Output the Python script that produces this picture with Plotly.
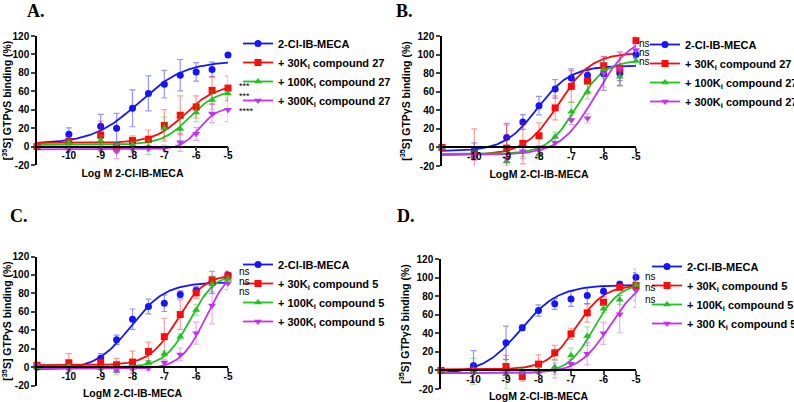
import plotly.graph_objects as go
import numpy as np

# log molar dose of 2-Cl-IB-MECA (first point = basal, drawn on the y axis)
LOG_DOSE = [-11, -10, -9, -8.5, -8, -7.5, -7, -6.5, -6, -5.5, -5]
X_TICKS = [-10, -9, -8, -7, -6, -5]
X_TICK_TEXT = ['-10', '-9', '-8', '-7', '-6', '-5']
Y_TICKS = [-20, 0, 20, 40, 60, 80, 100, 120]
Y_TICK_TEXT = ['-20', '0', '20', '40', '60', '80', '100', '120']

NAMES_A = ['2-Cl-IB-MECA', '+ 30K<sub>i</sub> compound 27',
           '+ 100K<sub>i</sub> compound 27', '+ 300K<sub>i</sub> compound 27']
NAMES_C = ['2-Cl-IB-MECA', '+ 30K<sub>i</sub> compound 5',
           '+ 100K<sub>i</sub> compound 5', '+ 300K<sub>i</sub> compound 5']
NAMES_D = ['2-Cl-IB-MECA', '+ 30K<sub>i</sub> compound 5',
           '+ 100K<sub>i</sub> compound 5', '+ 300 K<sub>i</sub> compound 5']

# panel A: % [35S]GTPgS binding, mean and SEM
A_AGONIST = [0, 13.3, 22, 20, 41.5, 57.7, 67.7, 77.5, 81, 83.6, 99.5]
A_30KI = [0, 5.8, 12.6, -1.4, 6.5, 8, 23, 34, 43, 61, 63.5]
A_100KI = [0, 4, 6.5, 1, 2, -0.5, 20, 19, 37, 50.5, 57.7]
A_300KI = [0, -3.6, -3.6, -5, -3, -2, -1.5, 4.7, 13.8, 36, 40]
A_AGONIST_SEM = [0, 7, 13, 16, 20, 19, 15, 17, 10, 8, 0]
A_30KI_SEM = [0, 3, 15, 5, 5, 10, 17, 21, 12, 15, 13]
A_100KI_SEM = [0, 3, 5, 4, 4, 8, 12, 15, 10, 10, 8]
A_300KI_SEM = [0, 2, 2, 8, 3, 3, 3, 10, 7, 10, 13]
# fitted curves: bottom, top, logEC50, hill slope
A_FITS = [(3, 93, -7.8, 0.6), (4, 67, -6.35, 0.9), (2, 62, -6.2, 1.0), (-3, 43, -5.9, 1.5)]

# panel B
B_AGONIST = [0, -3, 10.8, 27.4, 45, 63, 74.7, 77.6, 79.4, 80, 100]
B_30KI = [0, -8, -0.7, 4.3, 12.6, 42.6, 65.7, 71.5, 88, 84.5, 115]
B_100KI = [0, -8, -15, -5, -7.7, 11.5, 38.5, 60, 84, 76, 93]
B_300KI = [0, -9, -12, -4, -3, 5, 29.5, 31.3, 80, 85, 105]
B_AGONIST_SEM = [0, 8, 15, 8, 10, 10, 10, 5, 18, 8, 4]
B_30KI_SEM = [0, 28, 25, 22, 14, 13, 17, 14, 10, 18, 5]
B_100KI_SEM = [0, 5, 5, 5, 5, 5, 10, 8, 10, 10, 5]
B_300KI_SEM = [0, 5, 5, 8, 5, 5, 5, 5, 15, 18, 8]
B_FITS = [(-4, 88, -8.05, 0.85), (-8, 102, -7.4, 0.85), (-7, 94, -6.85, 1.0), (-8, 121, -6.25, 0.8)]

# panel C
C_AGONIST = [0, 1, 9.7, 29.6, 52, 65.7, 69.3, 78.7, 83, 92, 100]
C_30KI = [2, 4.7, 4.7, 2.5, 5.4, 17, 33, 57, 80.5, 94.5, 99]
C_100KI = [0, 0.5, -1, -4.3, -0.5, 4.7, 14.5, 33, 62, 90, 95.6]
C_300KI = [2, -2, -1, -3, -2, -1, 5, 13.7, 36.8, 66.8, 91]
C_AGONIST_SEM = [0, 3, 5, 5, 11, 8, 9, 4, 4, 12, 4]
C_30KI_SEM = [0, 10, 4, 7, 12, 10, 20, 16, 6, 4, 5]
C_100KI_SEM = [0, 2, 2, 4, 2, 2, 3, 3, 6, 8, 4]
C_300KI_SEM = [0, 2, 2, 3, 2, 3, 3, 7, 12, 20, 7]
C_FITS = [(-3, 92, -8.05, 0.8), (2, 101, -6.6, 1.0), (0, 102, -6.2, 1.1), (-2, 110, -5.7, 1.1)]

# panel D
D_AGONIST = [0, 5.4, 29.7, 45.9, 64.5, 71.7, 77, 80.6, 85.3, 92.8, 100.4]
D_30KI = [0, 0, 4.3, -6.5, 6.8, 19, 39.4, 62, 73.5, 89.6, 91.4]
D_100KI = [0, -1, -4, -1, 0, 3.6, 16, 37, 66.3, 76, 92]
D_300KI = [0, -2, -3, -2, -2, 0, 7.2, 18, 40, 60.6, 86]
D_AGONIST_SEM = [0, 16, 18, 3, 6, 6, 8, 9, 6, 3, 5]
D_30KI_SEM = [0, 3, 12, 5, 10, 8, 6, 10, 3, 3, 5]
D_100KI_SEM = [0, 14, 16, 3, 3, 8, 8, 10, 4, 5, 17]
D_300KI_SEM = [0, 2, 2, 2, 2, 8, 5, 12, 12, 20, 18]
D_FITS = [(-4, 92, -8.55, 0.75), (1, 92, -6.85, 1.0), (-3, 94, -6.3, 1.1), (-3, 100, -5.8, 0.9)]

W, H = 794, 402
FONT = 'Arial, Liberation Sans, sans-serif'
COLORS = ['#1414ff', '#ff0a0a', '#1fc41f', '#c233f0']
ERR_COLORS = ['rgba(20,20,255,0.45)', 'rgba(255,10,10,0.4)',
              'rgba(31,196,31,0.4)', 'rgba(194,51,240,0.4)']
SYMBOLS = ['circle', 'square', 'triangle-up', 'triangle-down']


def px(x):
    return x / W


def py(y):
    return 1 - y / H


def hill(x, bottom, top, logec50, slope):
    return bottom + (top - bottom) / (1 + 10 ** (slope * (logec50 - x)))


panels = [
    dict(label='A.', label_xy=(25, 11), box=(37, 228, 36, 165),
         means=[A_AGONIST, A_30KI, A_100KI, A_300KI],
         sems=[A_AGONIST_SEM, A_30KI_SEM, A_100KI_SEM, A_300KI_SEM],
         fits=A_FITS, names=NAMES_A, xtitle='Log M 2-Cl-IB-MECA', legend_xy=(238, 29),
         marks=['***', '***', '****'], marks_xy=[(237, 86), (237, 96), (237, 111)], mark_size=9),
    dict(label='B.', label_xy=(394, 11), box=(442, 636, 36, 166),
         means=[B_AGONIST, B_30KI, B_100KI, B_300KI],
         sems=[B_AGONIST_SEM, B_30KI_SEM, B_100KI_SEM, B_300KI_SEM],
         fits=B_FITS, names=NAMES_A, xtitle='LogM 2-Cl-IB-MECA', legend_xy=(645, 30),
         marks=['ns', 'ns', 'ns'], marks_xy=[(637, 43), (637, 52.5), (637, 62)], mark_size=10),
    dict(label='C.', label_xy=(8, 216), box=(37, 228, 256.5, 385.5),
         means=[C_AGONIST, C_30KI, C_100KI, C_300KI],
         sems=[C_AGONIST_SEM, C_30KI_SEM, C_100KI_SEM, C_300KI_SEM],
         fits=C_FITS, names=NAMES_C, xtitle='LogM 2-Cl-IB-MECA', legend_xy=(238, 250),
         marks=['ns', 'ns', 'ns'], marks_xy=[(237, 271), (237, 281), (237, 291)], mark_size=10),
    dict(label='D.', label_xy=(395, 216), box=(441, 636, 259, 389),
         means=[D_AGONIST, D_30KI, D_100KI, D_300KI],
         sems=[D_AGONIST_SEM, D_30KI_SEM, D_100KI_SEM, D_300KI_SEM],
         fits=D_FITS, names=NAMES_D, xtitle='LogM 2-Cl-IB-MECA', legend_xy=(647, 252),
         marks=['ns', 'ns', 'ns'], marks_xy=[(643, 276), (643, 287), (643, 299)], mark_size=10),
]

curve_x = np.linspace(LOG_DOSE[0], LOG_DOSE[-1], 181)

fig = go.Figure()
layout = dict(
    width=W, height=H, paper_bgcolor='white', plot_bgcolor='white',
    margin=dict(l=0, r=0, t=0, b=0, autoexpand=False),
    font=dict(family=FONT, color='black'),
    annotations=[],
)

for i, p in enumerate(panels):
    s = '' if i == 0 else str(i + 1)
    for k in range(4):
        fig.add_trace(go.Scatter(
            x=curve_x, y=hill(curve_x, *p['fits'][k]), mode='lines',
            line=dict(color=COLORS[k], width=1.8), showlegend=False,
            hoverinfo='skip', xaxis='x' + s, yaxis='y' + s))
    for k in range(4):
        fig.add_trace(go.Scatter(
            x=LOG_DOSE, y=p['means'][k], mode='markers', name=p['names'][k],
            marker=dict(symbol=SYMBOLS[k], size=7, color=COLORS[k]),
            error_y=dict(type='data', array=p['sems'][k], color=ERR_COLORS[k],
                         thickness=1.2, width=3),
            cliponaxis=False, showlegend=False, xaxis='x' + s, yaxis='y' + s))
    for k in range(4):
        # legend entry: line with marker, as in the original
        fig.add_trace(go.Scatter(
            x=[None], y=[None], mode='lines+markers', name=p['names'][k],
            line=dict(color=COLORS[k], width=1.8),
            marker=dict(symbol=SYMBOLS[k], size=7, color=COLORS[k]),
            legend='legend' + s, legendgroup='g%d%d' % (i, k),
            xaxis='x' + s, yaxis='y' + s))

    x0, x1, ytop, ybot = p['box']
    zero_px = ybot - (ybot - ytop) * 20 / 140
    layout['xaxis' + s] = dict(
        domain=[px(x0), px(x1)], range=[-11, -5], anchor='free', position=py(zero_px),
        tickvals=X_TICKS, ticktext=X_TICK_TEXT, ticks='outside', ticklen=4, tickwidth=1.5,
        ticklabelstandoff=-4,
        showline=True, linewidth=1.5, linecolor='black', showgrid=False, zeroline=False,
        tickfont=dict(family=FONT, size=10, weight='bold', color='black'),
        title=dict(text=p['xtitle'], standoff=8,
                   font=dict(family=FONT, size=10.5, weight='bold', color='black')))
    layout['yaxis' + s] = dict(
        domain=[py(ybot), py(ytop)], range=[-20, 120], anchor='x' + s,
        tickvals=Y_TICKS, ticktext=Y_TICK_TEXT, ticks='outside', ticklen=4, tickwidth=1.5,
        showline=True, linewidth=1.5, linecolor='black', showgrid=False, zeroline=False,
        tickfont=dict(family=FONT, size=10, weight='bold', color='black'),
        title=dict(text='[<sup>35</sup>S] GTPγS binding (%)', standoff=5,
                   font=dict(family=FONT, size=10.5, weight='bold', color='black')))
    lx, ly = p['legend_xy']
    layout['legend' + s] = dict(
        x=px(lx), y=py(ly), xanchor='left', yanchor='top', bgcolor='rgba(0,0,0,0)',
        itemwidth=30, tracegroupgap=0, traceorder='normal',
        font=dict(family=FONT, size=11, weight='bold', color='black'))

    layout['annotations'].append(dict(
        text=p['label'], x=px(p['label_xy'][0]), y=py(p['label_xy'][1]),
        xref='paper', yref='paper', xanchor='left', yanchor='middle', showarrow=False,
        font=dict(family='Times New Roman, Liberation Serif, serif', size=18,
                  weight='bold', color='black')))
    for txt, (mx, my) in zip(p['marks'], p['marks_xy']):
        layout['annotations'].append(dict(
            text=txt, x=px(mx), y=py(my), xref='paper', yref='paper',
            xanchor='left', yanchor='middle', showarrow=False,
            font=dict(family=FONT, size=p['mark_size'], color='black')))

fig.update_layout(**layout)
# drop the browser's default 8px body margin so the figure sits at the page corner
fig.write_html('out.html', config={'displayModeBar': False},
               post_script="document.body.style.margin = '0px';")
